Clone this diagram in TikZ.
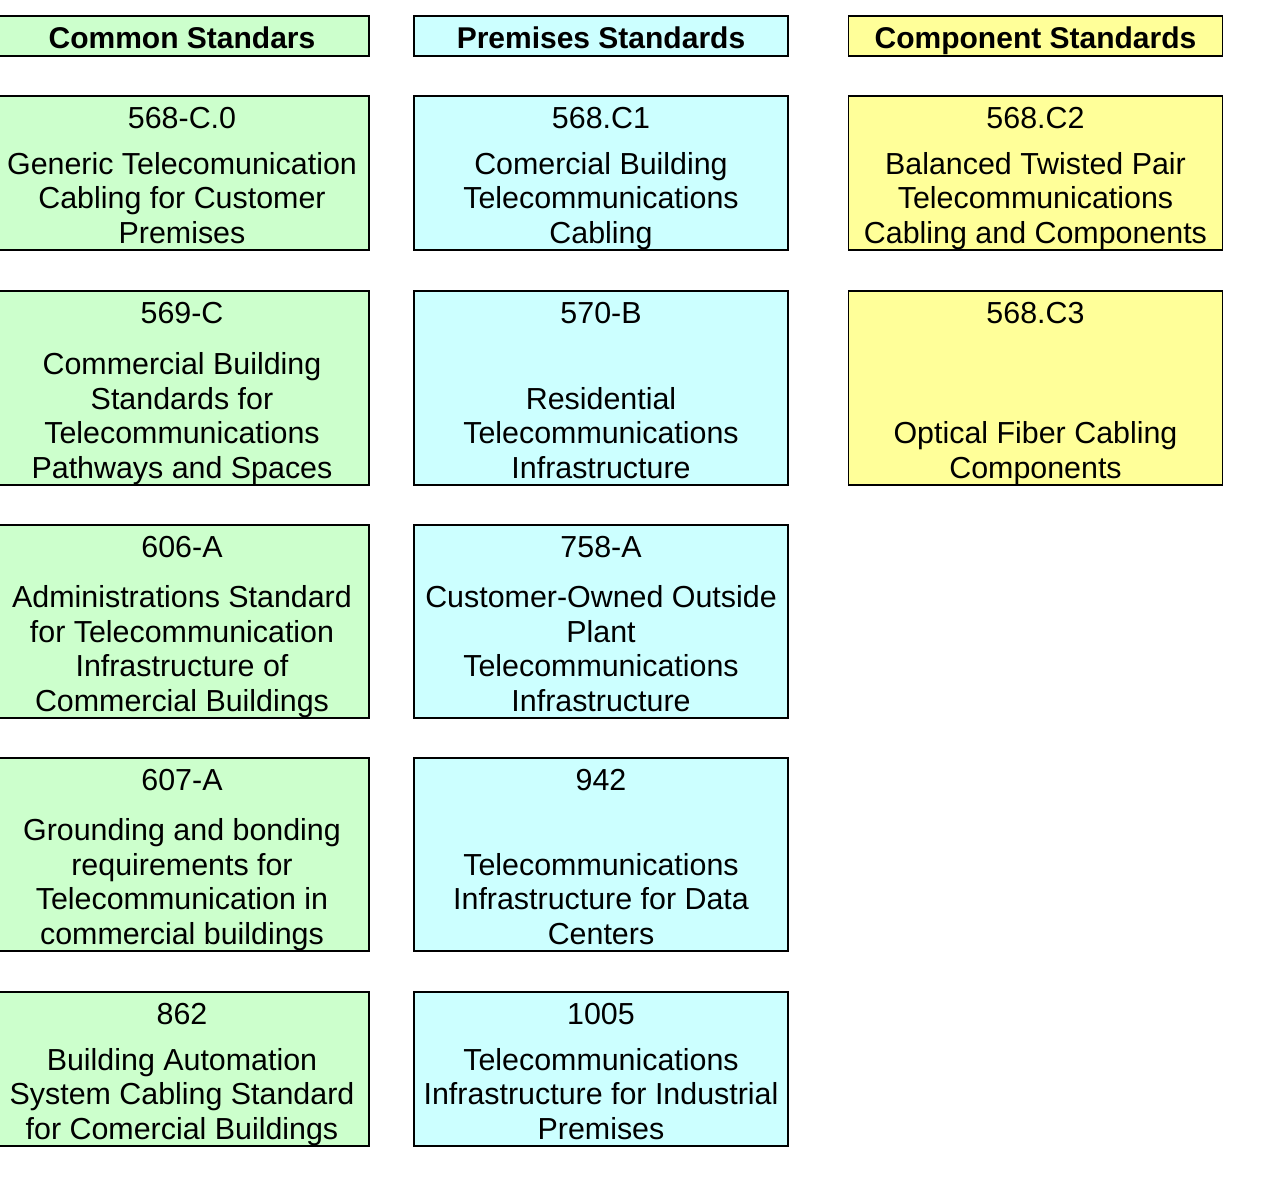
\documentclass[tikz,border=0pt]{standalone}
\usepackage{fontspec}
\setmainfont{Liberation Sans}
\usetikzlibrary{positioning}
\definecolor{commongreen}{RGB}{204,255,204}
\definecolor{premisecyan}{RGB}{204,255,255}
\definecolor{compyellow}{RGB}{255,255,153}

\begin{document}
\begin{tikzpicture}[x=1pt, y=-1pt,
	stdbox/.style={draw=black, line width=1.3pt, minimum width=374pt, inner sep=0pt},
	common/.style={stdbox, fill=commongreen},
	premise/.style={stdbox, fill=premisecyan},
	component/.style={stdbox, fill=compyellow},
	headtext/.style={font=\fontsize{30}{34}\selectfont\bfseries, minimum height=40pt, text height=25pt, text depth=0pt},
	numtext/.style={font=\fontsize{30.4}{34.7}\selectfont, anchor=base, inner sep=0pt},
	desctext/.style={font=\fontsize{30.4}{34.7}\selectfont, align=center, anchor=south, inner sep=0pt}]
	\clip (0,0) rectangle (1280,1185);
	% headers
	\node[common, headtext] (hcommon) at (182,36) {Common Standars};
	\node[premise, headtext] (hpremise) at (601,36) {Premises Standards};
	\node[component, headtext] (hcomponent) at (1035.5,36) {Component Standards};
	% common standards
	\node[common, minimum height=154pt] (c1) at (182,173) {};
	\node[numtext] (c1num) at ([yshift=-33pt]c1.north) {568-C.0};
	\node[desctext] (c1txt) at ([yshift=-3.4pt]c1.south) {Generic Telecomunication\\Cabling for Customer\\Premises\strut};
	\node[common, minimum height=194pt] (c2) at (182,388) {};
	\node[numtext] (c2num) at ([yshift=-33pt]c2.north) {569-C};
	\node[desctext] (c2txt) at ([yshift=-3.4pt]c2.south) {Commercial Building\\Standards for\\Telecommunications\\Pathways and Spaces\strut};
	\node[common, minimum height=193pt] (c3) at (182,621.5) {};
	\node[numtext] (c3num) at ([yshift=-33pt]c3.north) {606-A};
	\node[desctext] (c3txt) at ([yshift=-3.4pt]c3.south) {Administrations Standard\\for Telecommunication\\Infrastructure of\\Commercial Buildings\strut};
	\node[common, minimum height=193pt] (c4) at (182,854.5) {};
	\node[numtext] (c4num) at ([yshift=-33pt]c4.north) {607-A};
	\node[desctext] (c4txt) at ([yshift=-3.4pt]c4.south) {Grounding and bonding\\requirements for\\Telecommunication in\\commercial buildings\strut};
	\node[common, minimum height=154pt] (c5) at (182,1069) {};
	\node[numtext] (c5num) at ([yshift=-33pt]c5.north) {862};
	\node[desctext] (c5txt) at ([yshift=-3.4pt]c5.south) {Building Automation\\System Cabling Standard\\for Comercial Buildings\strut};
	% premises standards
	\node[premise, minimum height=154pt] (p1) at (601,173) {};
	\node[numtext] (p1num) at ([yshift=-33pt]p1.north) {568.C1};
	\node[desctext] (p1txt) at ([yshift=-3.4pt]p1.south) {Comercial Building\\Telecommunications\\Cabling\strut};
	\node[premise, minimum height=194pt] (p2) at (601,388) {};
	\node[numtext] (p2num) at ([yshift=-33pt]p2.north) {570-B};
	\node[desctext] (p2txt) at ([yshift=-3.4pt]p2.south) {Residential\\Telecommunications\\Infrastructure\strut};
	\node[premise, minimum height=193pt] (p3) at (601,621.5) {};
	\node[numtext] (p3num) at ([yshift=-33pt]p3.north) {758-A};
	\node[desctext] (p3txt) at ([yshift=-3.4pt]p3.south) {Customer-Owned Outside\\Plant\\Telecommunications\\Infrastructure\strut};
	\node[premise, minimum height=193pt] (p4) at (601,854.5) {};
	\node[numtext] (p4num) at ([yshift=-33pt]p4.north) {942};
	\node[desctext] (p4txt) at ([yshift=-3.4pt]p4.south) {Telecommunications\\Infrastructure for Data\\Centers\strut};
	\node[premise, minimum height=154pt] (p5) at (601,1069) {};
	\node[numtext] (p5num) at ([yshift=-33pt]p5.north) {1005};
	\node[desctext] (p5txt) at ([yshift=-3.4pt]p5.south) {Telecommunications\\Infrastructure for Industrial\\Premises\strut};
	% component standards
	\node[component, minimum height=154pt] (k1) at (1035.5,173) {};
	\node[numtext] (k1num) at ([yshift=-33pt]k1.north) {568.C2};
	\node[desctext] (k1txt) at ([yshift=-3.4pt]k1.south) {Balanced Twisted Pair\\Telecommunications\\Cabling and Components\strut};
	\node[component, minimum height=194pt] (k2) at (1035.5,388) {};
	\node[numtext] (k2num) at ([yshift=-33pt]k2.north) {568.C3};
	\node[desctext] (k2txt) at ([yshift=-3.4pt]k2.south) {Optical Fiber Cabling\\Components\strut};
\end{tikzpicture}
\end{document}
